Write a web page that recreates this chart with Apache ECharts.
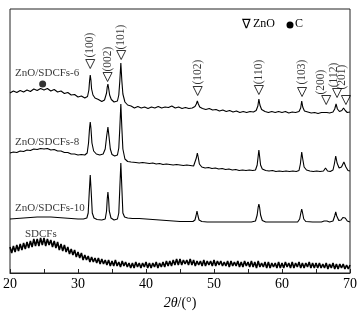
<!DOCTYPE html>
<html>
<head>
<meta charset="utf-8">
<script src="https://cdn.jsdelivr.net/npm/echarts@6/dist/echarts.min.js"></script>
<style>
  html, body { margin: 0; padding: 0; background: #fff; }
  #chart { width: 360px; height: 319px; }
</style>
</head>
<body>
<div id="chart"></div>
<script>
// intensity in arbitrary units, curves offset vertically as in the figure
const curve6 = [
  [20,180],[20.5,182],[21,180.5],[21.5,182.5],[22,181],[22.5,183],[23,181.5],[23.5,184],[24,182.5],[24.5,184.5],
  [25,183],[25.5,184.5],[26,182],[26.5,183.5],[27,181],[27.5,182],[28,179.5],[28.5,180.5],[29,178],[29.5,178.5],
  [30,176],[30.5,177],[31,175],[31.4,176.5],[31.6,183],[31.7,192],[31.8,198],[31.9,193],[32.0,184],[32.2,178],
  [32.5,175],[33,173.5],[33.5,171.5],[33.9,173],[34.2,180],[34.3,186],[34.4,189],[34.5,185],[34.65,178],[34.9,173.5],
  [35.3,171],[35.8,172],[36.0,178],[36.15,192],[36.3,210],[36.45,192],[36.6,179],[36.9,171],[37.3,168],[37.8,167],
  [38.3,165],[38.8,166.5],[39.3,165],[39.8,166],[40.3,164.5],[40.8,166],[41.3,165],[41.8,166.5],[42.3,165],[42.8,166],
  [43.3,165.5],[43.8,167],[44.3,165],[44.8,166],[45.3,164.5],[45.8,165.5],[46.3,164.5],[46.8,165],[47.2,166.5],[47.4,169],
  [47.55,172],[47.7,169],[47.9,166],[48.3,164.5],[48.8,163.5],[49.3,164.5],[49.8,163],[50.3,163.5],[50.8,162],[51.3,163],
  [51.8,161.5],[52.3,162.5],[52.8,161],[53.3,162],[53.8,160.5],[54.3,161.5],[54.8,160.5],[55.3,161.5],[55.8,161],[56.2,162.5],
  [56.45,167],[56.6,174],[56.75,168],[57.0,163.5],[57.5,161.5],[58,160.5],[58.5,161.5],[59,160.5],[59.5,161.5],[60,160.5],
  [60.5,161.5],[61,160],[61.5,161],[62,160.5],[62.5,161.5],[62.75,165],[62.9,172],[63.05,166],[63.3,162],[63.8,161],
  [64.3,160],[64.8,160.5],[65.3,159.5],[65.8,160.5],[66.2,160.5],[66.4,162.5],[66.6,160.5],[67.0,160],[67.5,161],[67.75,164],
  [67.95,169],[68.15,164],[68.45,161.5],[68.8,162.5],[69.05,165],[69.3,162.5],[69.6,160.5],[70,161]
];

const curve8 = [
  [20,120],[20.5,121],[21,120.5],[21.5,122],[22,121.5],[22.5,123],[23,122.5],[23.5,124],[24,123.5],[24.5,124.5],
  [25,124],[25.5,124.5],[26,123],[26.5,123.5],[27,122],[27.5,122],[28,120.5],[28.5,120.5],[29,119],[29.5,119],
  [30,118],[30.5,118.5],[31,118],[31.35,120],[31.55,130],[31.7,145],[31.8,151],[31.9,145],[32.05,130],[32.3,122],
  [32.7,119],[33.2,118],[33.7,119],[34.0,124],[34.2,136],[34.4,146],[34.55,137],[34.75,124],[35.0,118.5],[35.4,117],
  [35.8,118],[36.0,125],[36.15,145],[36.3,169],[36.45,145],[36.6,124],[36.9,114],[37.3,111.5],[37.8,111],[38.5,110.5],
  [39,110],[39.5,110.5],[40,110],[40.5,109.5],[41,110],[41.5,109],[42,109.5],[42.5,108.5],[43,109],[43.5,108.5],
  [44,108],[44.5,108.5],[45,108],[45.5,107.5],[46,108],[46.5,107.5],[47,107],[47.25,109],[47.4,115],[47.55,120],
  [47.7,115],[47.85,109],[48.2,106],[48.7,105],[49.2,105.5],[49.7,104.5],[50.2,105],[50.7,104],[51.2,104.5],[51.7,103.5],
  [52.2,104],[52.7,103],[53.2,103.5],[53.7,102.5],[54.2,103],[54.7,102.5],[55.2,103],[55.7,102.5],[56.1,103],[56.35,108],
  [56.5,117],[56.6,123],[56.7,117],[56.85,108],[57.1,104],[57.6,102.5],[58.1,102],[58.6,102.5],[59.1,101.5],[59.6,102],
  [60.1,101.5],[60.6,102],[61.1,101.5],[61.6,102],[62.1,101.5],[62.5,102.5],[62.7,109],[62.9,121],[63.05,114],[63.25,106],
  [63.6,103],[64.1,102],[64.6,101.5],[65.1,102],[65.6,101.5],[66.1,102],[66.4,105],[66.7,102],[67.1,101.5],[67.5,103],
  [67.7,109],[67.9,117],[68.1,110],[68.4,105],[68.75,106],[69.1,111],[69.4,106],[69.7,102.5],[70,102]
];

const curve10 = [
  [20,54],[21,54.5],[22,55],[23,55.5],[24,56],[25,56],[26,56],[27,55.5],[28,55],[29,54.5],
  [30,54],[30.8,54],[31.3,55],[31.5,60],[31.65,80],[31.8,98],[31.95,80],[32.1,60],[32.35,55],[32.8,53.5],
  [33.5,53],[34.0,54],[34.2,62],[34.3,74],[34.4,81],[34.5,74],[34.6,62],[34.85,55],[35.3,53],[35.8,54],
  [36.0,60],[36.15,85],[36.3,110],[36.45,85],[36.6,60],[36.85,56],[37.3,55],[38,54.5],[39,54.5],[40,54],
  [41,53.5],[42,53],[43,52.5],[44,52],[45,51.5],[46,51.5],[46.9,51.5],[47.2,53],[47.35,57],[47.5,62],
  [47.65,57],[47.8,53],[48.2,51.5],[49,51],[50,51],[52,51],[54,51],[55.5,51],[56.1,52],[56.35,58],
  [56.5,66],[56.6,69],[56.7,66],[56.85,58],[57.1,52.5],[57.6,51],[59,51],[61,51],[62.3,51],[62.6,54],
  [62.8,61],[62.9,64],[63.0,61],[63.2,54],[63.5,51.5],[64.5,51],[65.8,51],[66.2,52],[66.4,53],[66.6,52],
  [67.0,51],[67.5,52],[67.75,57],[67.9,61],[68.05,57],[68.35,52.5],[68.7,53],[68.95,55.5],[69.1,56],[69.3,55],
  [69.6,52],[70,51]
];

// SDCFs: read every 0.25 deg from 20 to 70 (noisy amorphous carbon)
const sdcfsStart = 20;
const sdcfsStep = 0.25;
const sdcfsValues = [
  26,20,27,21, 28,22,29,23, 30,24,31,25, 32,26,34,27, 34,27,35,28,
  35,27,34,28, 33,26,32,25, 31,23,29,22, 28,21,26,19, 24,18,23,16,
  21,15,20,13, 18,13,17,11, 16,11,15,10, 15,9,14,9, 13,8,13,7,
  12,7,13,7, 11,6,12,7, 11,6,10,5, 10,5,11,6, 10,5,10,6,
  11,5,10,5, 10,6,11,5, 10,6,11,6, 12,7,12,7, 13,8,14,8,
  14,8,13,9, 13,8,14,8, 13,7,12,8, 12,7,13,7, 12,8,12,7,
  13,7,12,8, 12,7,11,7, 12,6,12,7, 11,7,12,6, 11,6,12,7,
  11,6,12,6, 11,5,12,6, 10,6,11,5, 11,5,10,6, 10,5,11,5,
  10,5,11,6, 10,5,11,5, 10,6,11,5, 10,5,10,6, 11,5,10,5,
  10,5,10,5, 9,5,10,4, 9,5,10,4, 9,4,9,5, 9,4,8,4,
  8
];

// ZnO reflections: marker position, label position
const hklNames = ["(100)", "(002)", "(101)", "(102)", "(110)", "(103)", "(200)", "(112)", "(201)"];
const markerX = [31.8, 34.35, 36.35, 47.6, 56.6, 62.95, 66.5, 68.1, 69.4];
const markerY = [209, 196, 218, 182, 183, 181, 173, 180, 173];
const hklX = [31.8, 34.35, 36.35, 47.6, 56.65, 62.95, 65.75, 67.65, 68.8];
const hklY = [228, 214, 236, 201, 201, 201, 191, 198, 196];

const sampleNames = ["ZnO/SDCFs-6", "ZnO/SDCFs-8", "ZnO/SDCFs-10", "SDCFs"];
const sampleX = [20.75, 20.75, 20.75, 22.2];
const sampleY = [200, 131, 65, 39];

const carbonMark = [[24.8, 189]];

const xTicks = [20, 30, 40, 50, 60, 70];

const serif = "'Liberation Serif', 'Times New Roman', serif";

const sdcfs = sdcfsValues.map((v, i) => [sdcfsStart + i * sdcfsStep, v]);

const chart = echarts.init(document.getElementById("chart"), null, { renderer: "canvas" });

const lineSeries = (name, data, width) => ({
  name: name,
  type: "line",
  data: data,
  showSymbol: false,
  smooth: false,
  lineStyle: { color: "#000", width: width },
  z: 2
});

chart.setOption({
  animation: false,
  backgroundColor: "#fff",
  textStyle: { fontFamily: serif },
  grid: {
    left: 10,
    right: 8,
    top: 9,
    bottom: 46,
    show: true,
    borderColor: "#222",
    borderWidth: 1
  },
  xAxis: {
    type: "value",
    min: 20,
    max: 70,
    interval: 5,
    name: "{i|2θ}/(°)",
    nameLocation: "middle",
    nameGap: 19,
    nameTextStyle: {
      fontFamily: serif,
      fontSize: 14,
      color: "#000",
      rich: { i: { fontStyle: "italic", fontFamily: serif, fontSize: 14, color: "#000" } }
    },
    axisLine: { lineStyle: { color: "#222", width: 1 } },
    axisTick: { inside: true, length: 4, lineStyle: { color: "#222" } },
    axisLabel: {
      fontFamily: serif,
      fontSize: 14,
      color: "#000",
      margin: 4,
      formatter: v => (xTicks.indexOf(v) >= 0 ? String(v) : "")
    },
    splitLine: { show: false }
  },
  yAxis: {
    type: "value",
    min: 0,
    max: 264,
    show: false
  },
  graphic: [
    {
      type: "text",
      left: 242,
      top: 18,
      style: { text: "∇", font: "13px 'DejaVu Sans'", fill: "#000" }
    },
    {
      type: "text",
      left: 253,
      top: 18,
      style: { text: "ZnO", font: "12px " + serif, fill: "#000" }
    },
    {
      type: "circle",
      shape: { cx: 290, cy: 25, r: 3.5 },
      style: { fill: "#000" }
    },
    {
      type: "text",
      left: 295,
      top: 18,
      style: { text: "C", font: "12px " + serif, fill: "#000" }
    }
  ],
  series: [
    lineSeries("ZnO/SDCFs-6", curve6, 1.1),
    lineSeries("ZnO/SDCFs-8", curve8, 1.1),
    lineSeries("ZnO/SDCFs-10", curve10, 1.1),
    lineSeries("SDCFs", sdcfs, 1.6),
    {
      name: "ZnO marker",
      type: "scatter",
      symbol: "path://M0,0 L10,0 L5,10 Z",
      symbolSize: [9, 9],
      itemStyle: { color: "rgba(0,0,0,0)", borderColor: "#000", borderWidth: 1 },
      data: markerX.map((x, i) => [x, markerY[i]]),
      z: 3
    },
    {
      name: "hkl",
      type: "scatter",
      symbolSize: 0,
      data: hklX.map((x, i) => ({ value: [x, hklY[i]], name: hklNames[i] })),
      label: {
        show: true,
        position: "inside",
        rotate: 90,
        formatter: p => p.name,
        fontFamily: serif,
        fontSize: 11.5,
        color: "#000"
      },
      z: 3
    },
    {
      name: "samples",
      type: "scatter",
      symbolSize: 0,
      data: sampleX.map((x, i) => ({ value: [x, sampleY[i]], name: sampleNames[i] })),
      label: {
        show: true,
        position: "right",
        distance: 0,
        formatter: p => p.name,
        fontFamily: serif,
        fontSize: 11,
        color: "#000"
      },
      z: 3
    },
    {
      name: "C",
      type: "scatter",
      symbol: "circle",
      symbolSize: 7,
      itemStyle: { color: "#000" },
      data: carbonMark,
      z: 3
    }
  ]
});
</script>
</body>
</html>
